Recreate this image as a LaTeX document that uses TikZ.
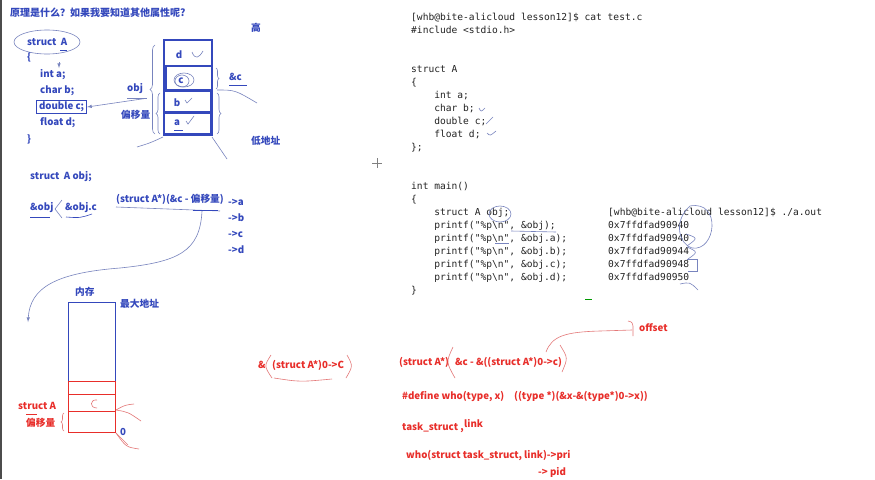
\documentclass[tikz,border=0pt]{standalone}
\usepackage{fontspec}
\newfontfamily\hand{Noto Sans CJK SC}
\newfontfamily\term{DejaVu Sans Mono}
\usetikzlibrary{positioning,decorations.pathreplacing}

\definecolor{inkblue}{RGB}{52,72,188}
\definecolor{inkred}{RGB}{232,46,42}
\definecolor{pencil}{RGB}{120,132,190}
\definecolor{pencilred}{RGB}{228,120,120}
\definecolor{termtext}{RGB}{35,35,35}

\begin{document}
\begin{tikzpicture}[x=1pt, y=-1pt,
    % handwritten labels on the board
    bluelbl/.style={font=\hand\bfseries\fontsize{9.7}{11}\selectfont, text=inkblue,
        anchor=west, inner sep=0pt, text height=6.8pt, text depth=1.8pt},
    redlbl/.style={bluelbl, text=inkred},
    code/.style={font=\term\fontsize{9.6}{13}\selectfont, text=termtext,
        anchor=north west, inner sep=0pt, align=left},
    cell/.style={draw=inkblue, line width=1.2pt},
    sketch/.style={pencil, line width=0.6pt},
    redsketch/.style={pencilred, line width=0.6pt},
    hbrace/.style={sketch, decorate, decoration={brace, amplitude=#1}},
    >=latex
]

\def\ind{\hphantom{xxxx}}

\useasboundingbox (0,0) rectangle (875,479);
\fill[white] (0,0) rectangle (875,479);
\draw[gray!60!black, line width=1.5pt] (1,0) -- (1,479);

% ---------- struct definition (top left)
\node[bluelbl, font=\hand\bfseries\fontsize{10}{12}\selectfont] (title) at (10,14) {原理是什么？如果我要知道其他属性呢?};
\node[bluelbl] (sA) at (27,43) {struct\ \ A};
\draw[sketch] (47,42) ellipse (33 and 12);
\draw[inkblue, line width=0.6pt] (60,50) -- (67,50);
\node[bluelbl] (lbr) at (27,58) {\{};
\node[bluelbl] (fa) at (40,75) {int a;};
\draw[sketch, ->] (59,62) -- (59,68);
\node[bluelbl] (fb) at (40,91) {char b;};
\node[bluelbl, draw=inkblue, line width=1pt, inner sep=2.5pt] (fc) at (36,107) {double c;};
\node[bluelbl] (fd) at (40,123) {float d;};
\node[bluelbl] (rbr) at (27,140) {\}};

% ---------- obj laid out in memory
\draw[cell] (164,40) rectangle (212,135);
\draw[cell] (166,66) rectangle (212,90);
\draw[cell] (164,91) rectangle (211,112);
\draw[cell] (164,113) rectangle (211,134);
\node[bluelbl, anchor=center] (md) at (179,56) {d};
\node[bluelbl, anchor=center] (mc) at (181,81) {c};
\node[bluelbl, anchor=center] (mb) at (177,104) {b};
\node[bluelbl, anchor=center] (ma) at (177,123) {a};
\draw[sketch] (192,52) .. controls (195,60) and (199,58) .. (203,51);
\draw[sketch] (185,100) -- (187,103) -- (192,98);
\draw[sketch] (186,121) -- (188,124) -- (194,116);
\draw[sketch] (184,80) ellipse (10 and 7);
\draw[sketch] (182,81) ellipse (7 and 6);
\draw[inkblue, line width=0.6pt] (174,130) -- (183,130);

% braces around the cells
\draw[hbrace=5pt] (155,134) -- (155,45);
\draw[hbrace=4pt] (160,134) -- (160,93);
\draw[hbrace=4pt] (217,93) -- (217,134);
\draw[hbrace=3pt] (216,68) -- (216,89);

\node[bluelbl] (objlbl) at (127,89) {obj};
\draw[sketch] (127,98) -- (147,98);
\node[bluelbl] (offlbl) at (121,116) {偏移量};
\draw[sketch, ->] (objlbl.south east) ++(2,5) -- (fc.east);

\node[bluelbl] (addrc) at (229,78) {\&c};
\draw[inkblue, line width=0.6pt] (229,85) -- (247,85);
\node[bluelbl] (high) at (251,29) {高};
\node[bluelbl] (low) at (251,142) {低地址};
\draw[sketch] (217,90) .. controls (235,90) .. (257,103);
\draw[sketch] (212,137) -- (227,159);
\draw[sketch] (137,147) .. controls (150,143) .. (163,137);

% ---------- container_of idea
\node[bluelbl] (decl) at (30,177) {struct\ \ A obj;};
\node[bluelbl] (aobj) at (30,208) {\&obj};
\draw[inkblue, line width=0.6pt] (30,217) -- (50,217);
\draw[sketch] (62,200) -- (55,209) -- (62,218);
\node[bluelbl] (aobjc) at (65,208) {\&obj.c};
\draw[inkblue, line width=0.6pt] (66,217) .. controls (80,218) .. (92,214);
\node[bluelbl] (formula) at (116,200) {(struct A*)(\&c - 偏移量)};
\draw[sketch] (116,207) -- (220,211);
\draw[inkblue, line width=0.6pt] (193,210) -- (218,210);
\node[bluelbl] (ta) at (228,203) {->a};
\node[bluelbl] (tb) at (228,219) {->b};
\node[bluelbl] (tc) at (228,235) {->c};
\node[bluelbl] (td) at (228,251) {->d};
\coordinate (memtip) at (28,322);
\draw[sketch, ->] (202,211) .. controls (200,252) and (178,262) .. (120,268)
    .. controls (55,273) and (30,288) .. (memtip);

% ---------- whole memory
\node[bluelbl] (mem) at (75,293) {内存};
\node[bluelbl] (maxaddr) at (120,305) {最大地址};
\draw[cell, line width=1pt] (68,381) -- (68,302) -- (115,302) -- (115,381);
\draw[draw=inkred, line width=1pt] (68,381) rectangle (115,432);
\draw[draw=inkred, line width=1pt] (68,394) -- (115,394);
\draw[draw=inkred, line width=1pt] (68,411) -- (115,411);
\draw[redsketch] (97,400) .. controls (90,399) and (89,408) .. (97,408);
\node[redlbl] (rsA) at (18,407) {struct A};
\draw[inkred, line width=0.6pt] (26,414) -- (37,414);
\node[redlbl] (roff) at (26,424) {偏移量};
\draw[hbrace=3pt, pencilred] (64,431) -- (64,413);
\node[bluelbl] (zero) at (120,433) {0};
\draw[redsketch] (141,421) .. controls (128,412) .. (116,410);
\draw[redsketch] (134,404) .. controls (125,405) .. (116,410);
\draw[redsketch] (139,449) .. controls (126,447) .. (116,433);
\draw[redsketch] (128,445) -- (116,433);

% ---------- offsetof / container_of in red
\node[redlbl] (amp) at (258,366) {\&};
\node[redlbl] (zeroc) at (272,366) {(struct A*)0->C};
\draw[redsketch] (271,355) .. controls (264,366) .. (272,378);
\draw[redsketch] (347,355) .. controls (353,366) .. (346,378);
\draw[redsketch] (274,378) .. controls (300,382) .. (332,379);

\node[redlbl] (cast) at (399,363) {(struct A*)};
\node[redlbl] (offbody) at (455,363) {\&c - \&((struct A*)0->c)};
\draw[redsketch] (453,347) .. controls (446,362) .. (455,378);
\draw[redsketch] (560,345) .. controls (568,358) .. (562,372);
\node[redlbl] (offset) at (639,329) {offset};
\draw[redsketch] (546,352) .. controls (552,336) and (565,332) .. (600,331) -- (632,330);
\draw[redsketch] (628,321) .. controls (632,322) .. (633,326) -- (633,336);

\node[redlbl] (define) at (402,397) {\#define who(type, x)};
\node[redlbl] (macro) at (514,397) {((type *)(\&x-\&(type*)0->x))};
\node[redlbl] (task) at (402,428) {task\_struct ,};
\node[redlbl] (link) at (464,425) {link};
\node[redlbl] (usepri) at (406,456) {who(struct task\_struct, link)->pri};
\node[redlbl] (usepid) at (538,473) {-> pid};

% ---------- terminal
\node[code] (src) at (411,12.5) {[whb@bite-alicloud lesson12]\$ cat test.c\\
\#include <stdio.h>\\ \\ \\
struct A\\
\{\\
\ind int a;\\
\ind char b;\\
\ind double c;\\
\ind float d;\\
\};\\ \\ \\
int main()\\
\{\\
\ind struct A obj;\\
\ind printf("\%p\textbackslash n", \&obj);\\
\ind printf("\%p\textbackslash n", \&obj.a);\\
\ind printf("\%p\textbackslash n", \&obj.b);\\
\ind printf("\%p\textbackslash n", \&obj.c);\\
\ind printf("\%p\textbackslash n", \&obj.d);\\
\}};
\node[code] (out) at (608,207.5) {[whb@bite-alicloud lesson12]\$ ./a.out\\
0x7ffdfad90940\\
0x7ffdfad90940\\
0x7ffdfad90944\\
0x7ffdfad90948\\
0x7ffdfad90950};

% pen marks over the terminal
\draw[sketch] (479,108) .. controls (481,112) .. (485,108);
\draw[sketch] (486,124) -- (493,117);
\draw[sketch] (487,133) .. controls (490,136) .. (496,131);
\draw[sketch] (500,214) ellipse (11 and 8);
\draw[sketch] (511,231) -- (556,232);
\draw[sketch] (495,243) -- (509,243);
\draw[sketch] (690,206) .. controls (722,200) and (716,252) .. (692,248)
    .. controls (680,245) and (672,222) .. (690,206);
\draw[sketch] (686,234) .. controls (698,238) .. (687,246);
\draw[sketch] (687,247) .. controls (698,252) .. (688,259);
\draw[sketch] (687,259) -- (697,259) -- (697,271) -- (688,271);
\draw[sketch] (680,284) .. controls (690,282) .. (698,290);
\draw[green!60!black, line width=1pt] (585,299) -- (592,299);

% cursor
\draw[gray, line width=0.5pt] (372,163) -- (382,163);
\draw[gray, line width=0.5pt] (377,158) -- (377,168);

\end{tikzpicture}
\end{document}
